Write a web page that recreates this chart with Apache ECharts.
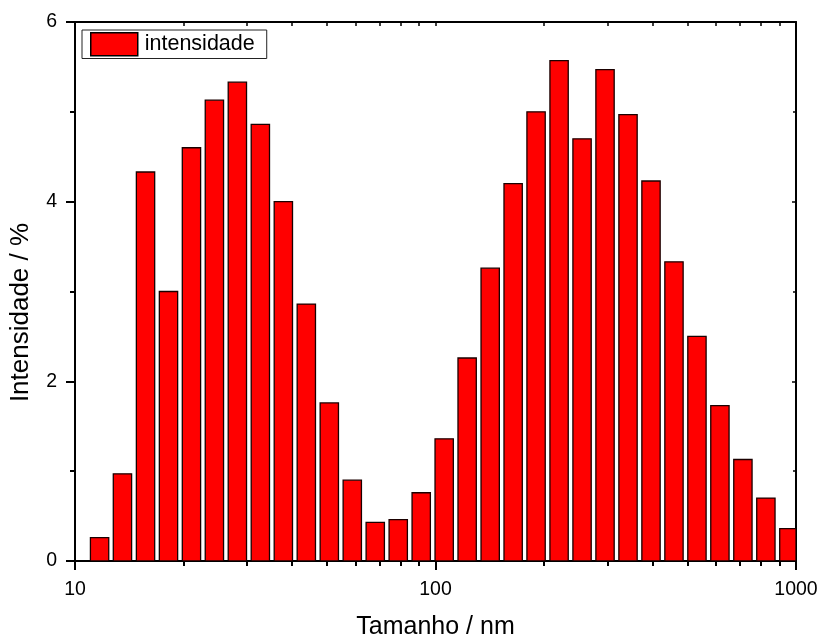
<!DOCTYPE html>
<html>
<head>
<meta charset="utf-8">
<title>Intensidade vs Tamanho</title>
<script src="https://cdn.jsdelivr.net/npm/echarts@6/dist/echarts.min.js"></script>
<style>
  html, body { margin: 0; padding: 0; background: #ffffff; }
  #chart { width: 819px; height: 636px; }
</style>
</head>
<body>
<div id="chart"></div>
<script>
// Size bins (nm), log-spaced centres of the DLS distribution
var sizes = [11.7, 13.54, 15.69, 18.17, 21.04, 24.36, 28.21, 32.67, 37.84, 43.82,
             50.75, 58.77, 68.06, 78.82, 91.28, 105.7, 122.4, 141.8, 164.2, 190.1,
             220.2, 255.0, 295.3, 342.0, 396.1, 458.7, 531.2, 615.1, 712.4, 825.0, 955.4];
// Intensity (%) for each bin
var intensity = [0.26, 0.97, 4.33, 3.00, 4.60, 5.13, 5.33, 4.86, 4.00, 2.86,
                 1.76, 0.90, 0.43, 0.46, 0.76, 1.36, 2.26, 3.26, 4.20, 5.00,
                 5.57, 4.70, 5.47, 4.97, 4.23, 3.33, 2.50, 1.73, 1.13, 0.70, 0.36];
// Tick positions on the logarithmic size axis
var minorSizeTicks = [20, 30, 40, 50, 60, 70, 80, 90, 200, 300, 400, 500, 600, 700, 800, 900];
var majorSizeTicks = [10, 100, 1000];
var yTicks = [0, 2, 4, 6];

var FONT = "'Liberation Sans', Arial, Helvetica, sans-serif";
var HALF_LOG_WIDTH = 0.0254; // half bar width, in decades

var chart = echarts.init(document.getElementById('chart'), null, { renderer: 'canvas' });

var data = sizes.map(function (s, i) { return [s, intensity[i]]; });

function renderBar(params, api) {
  var c = api.value(0);
  var v = api.value(1);
  var f = Math.pow(10, HALF_LOG_WIDTH);
  var p0 = api.coord([c / f, v]);
  var p1 = api.coord([c * f, 0]);
  var rect = echarts.graphic.clipRectByRect({
    x: p0[0], y: p0[1], width: p1[0] - p0[0], height: p1[1] - p0[1]
  }, {
    x: params.coordSys.x, y: params.coordSys.y,
    width: params.coordSys.width, height: params.coordSys.height
  });
  if (!rect) return;
  return {
    type: 'rect',
    shape: rect,
    style: { fill: '#ff0000', stroke: '#1a0000', lineWidth: 1.3 }
  };
}

var axisLine = { show: true, onZero: false, lineStyle: { color: '#000', width: 2 } };

var option = {
  animation: false,
  backgroundColor: '#ffffff',
  textStyle: { fontFamily: FONT },
  grid: { left: 75, right: 23, top: 22, bottom: 75, containLabel: false, outerBoundsMode: 'none' },
  legend: {
    left: 82, top: 30,
    orient: 'vertical',
    padding: [2, 12, 2, 8],
    borderColor: '#222',
    borderWidth: 1,
    itemWidth: 47, itemHeight: 23,
    icon: 'rect',
    itemStyle: { color: '#ff0000', borderColor: '#000', borderWidth: 1.5 },
    textStyle: { fontFamily: FONT, fontSize: 21.5, color: '#000', padding: [0, 0, 0, 2] },
    data: ['intensidade']
  },
  xAxis: [
    {
      type: 'log', logBase: 10, min: 10, max: 1000, position: 'bottom',
      name: 'Tamanho / nm', nameLocation: 'middle', nameGap: 54,
      nameTextStyle: { fontFamily: FONT, fontSize: 25, color: '#000' },
      axisLine: axisLine,
      axisTick: { show: true, inside: false, length: 9, lineStyle: { color: '#000', width: 2 },
                  customValues: majorSizeTicks },
      axisLabel: { show: true, margin: 19, fontFamily: FONT, fontSize: 19.5, color: '#000',
                   customValues: majorSizeTicks,
                   formatter: function (v) { return String(Math.round(v)); } },
      splitLine: { show: false }, minorTick: { show: false }
    },
    {
      type: 'log', logBase: 10, min: 10, max: 1000, position: 'bottom',
      axisLine: { show: false },
      axisTick: { show: true, inside: false, length: 5, lineStyle: { color: '#000', width: 2 },
                  customValues: minorSizeTicks },
      axisLabel: { show: false }, splitLine: { show: false }
    },
    {
      type: 'log', logBase: 10, min: 10, max: 1000, position: 'top',
      axisLine: axisLine,
      axisTick: { show: true, inside: true, length: 4, lineStyle: { color: '#000', width: 1.5 },
                  customValues: majorSizeTicks.concat(minorSizeTicks) },
      axisLabel: { show: false }, splitLine: { show: false }
    }
  ],
  yAxis: [
    {
      type: 'value', min: 0, max: 6, interval: 2, position: 'left',
      name: 'Intensidade / %', nameLocation: 'middle', nameGap: 41, nameRotate: 90,
      nameTextStyle: { fontFamily: FONT, fontSize: 26, color: '#000', padding: [0, 42, 0, 0] },
      axisLine: axisLine,
      axisTick: { show: true, inside: false, length: 9, lineStyle: { color: '#000', width: 2 } },
      minorTick: { show: true, splitNumber: 2, length: 5, lineStyle: { color: '#000', width: 2 } },
      axisLabel: { show: true, margin: 18, fontFamily: FONT, fontSize: 19.5, color: '#000',
                   customValues: yTicks },
      splitLine: { show: false }, minorSplitLine: { show: false }
    },
    {
      type: 'value', min: 0, max: 6, interval: 2, position: 'right',
      axisLine: axisLine,
      axisTick: { show: true, inside: true, length: 4, lineStyle: { color: '#000', width: 1.5 } },
      minorTick: { show: true, splitNumber: 2, length: 3, lineStyle: { color: '#000', width: 1.5 } },
      axisLabel: { show: false },
      splitLine: { show: false }, minorSplitLine: { show: false }
    }
  ],
  series: [
    {
      name: 'intensidade',
      type: 'custom',
      xAxisIndex: 0, yAxisIndex: 0,
      clip: true,
      itemStyle: { color: '#ff0000', borderColor: '#000', borderWidth: 1.5 },
      encode: { x: 0, y: 1 },
      renderItem: renderBar,
      data: data
    }
  ]
};

chart.setOption(option);
</script>
</body>
</html>
